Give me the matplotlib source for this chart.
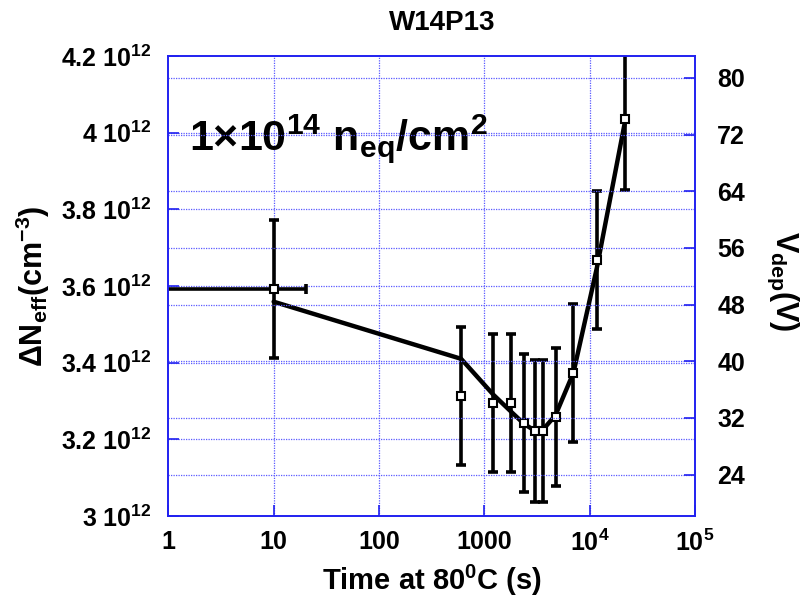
import numpy as np
import matplotlib
matplotlib.use('Agg')
import matplotlib.pyplot as plt
from matplotlib.ticker import FixedLocator, FuncFormatter, NullLocator

plt.rcParams['font.family'] = ['Liberation Sans', 'DejaVu Sans']
plt.rcParams['font.weight'] = 'bold'
plt.rcParams['mathtext.fontset'] = 'custom'
plt.rcParams['mathtext.rm'] = 'Liberation Sans:bold'
plt.rcParams['mathtext.it'] = 'Liberation Sans:bold'
plt.rcParams['mathtext.bf'] = 'Liberation Sans:bold'
plt.rcParams['mathtext.default'] = 'rm'

## the data (Neff in units of 1e12 cm^-3)
time_s = [10, 602, 1222, 1797, 2389, 3000, 3600, 4740, 7020, 11700, 21800]
neff = [3.591, 3.313, 3.294, 3.294, 3.242, 3.222, 3.222, 3.259, 3.372, 3.668, 4.035]
neff_err = [0.18, 0.18, 0.18, 0.18, 0.18, 0.185, 0.185, 0.18, 0.18, 0.18, 0.185]
first_xerr_low = 9.9    # horizontal bar on the first point
first_xerr_high = 10.3

fit_time = [10, 602, 1222, 1797, 2389, 3000, 3600, 4740, 7020, 11700, 21800]
fit_neff = [3.559, 3.410, 3.316, 3.272, 3.240, 3.223, 3.225, 3.263, 3.374, 3.647, 4.033]

left_ticks = [3.0, 3.2, 3.4, 3.6, 3.8, 4.0, 4.2]
right_ticks = [24, 32, 40, 48, 56, 64, 72, 80]
x_ticks = [1, 10, 100, 1000, 1e4, 1e5]
x_tick_labels = ['1', '10', '100', '1000', '10$^4$', '10$^5$']

blue = '#2020f0'
gridc = '#5a5aff'

fig = plt.figure(figsize=(8.12, 6.0), dpi=100)
ax = fig.add_axes([0.2073, 0.14, 0.6486, 0.7667])
ax2 = ax.twinx()

ax.set_xscale('log')
ax.set_xlim(1, 1e5)
ax.set_ylim(3.0, 4.2)
ax2.set_ylim(18.14, 83.1)

# grid
for t in x_ticks[1:-1]:
    ax.axvline(t, color=gridc, ls=(0, (1, 1)), lw=0.9, zorder=0)
for v in left_ticks[1:-1]:
    ax.axhline(v, color=gridc, ls=(0, (1, 1)), lw=0.9, zorder=0)
for v in right_ticks:
    ax2.axhline(v, color=gridc, ls=(0, (1, 1)), lw=0.9, zorder=0)

# fit line
ax.plot(fit_time, fit_neff, color='black', lw=3.2, zorder=3, solid_capstyle='round')

# data with error bars
ax.errorbar(time_s, neff, yerr=neff_err, fmt='none', ecolor='black',
            elinewidth=2.6, capsize=3.5, capthick=2.6, zorder=2)
ax.errorbar([time_s[0]], [neff[0]], xerr=[[first_xerr_low], [first_xerr_high]],
            fmt='none', ecolor='black', elinewidth=2.6, capsize=3.5, capthick=2.6, zorder=2)
ax.plot(time_s, neff, 's', ms=5.5, mfc='white', mec='black', mew=1.5, zorder=4)

# ticks and labels
ax.xaxis.set_major_locator(FixedLocator(x_ticks))
ax.xaxis.set_minor_locator(NullLocator())
ax.set_xticklabels(x_tick_labels)
ax.yaxis.set_major_locator(FixedLocator(left_ticks))
ax.yaxis.set_major_formatter(FuncFormatter(lambda v, p: '%g 10$^{12}$' % v))
ax2.yaxis.set_major_locator(FixedLocator(right_ticks))

for a in (ax, ax2):
    for s in a.spines.values():
        s.set_color(blue)
        s.set_linewidth(1.2)
    a.tick_params(direction='in', length=8, width=1.2, color=blue,
                  labelsize=18, labelcolor='black')
ax.tick_params(axis='x', pad=10)
ax.tick_params(axis='y', pad=12)
ax2.tick_params(axis='y', pad=16)
ax.xaxis.set_ticks_position('bottom')

ax.set_xlabel('Time at 80$^0$C (s)', fontsize=21, fontweight='bold')
ax.xaxis.set_label_coords(0.5, -0.102)
ax.set_ylabel('$\\Delta$N$_{eff}$(cm$^{-3}$)', fontsize=22, fontweight='bold')
ax.yaxis.set_label_coords(-0.22, 0.5)
ax2.set_ylabel('V$_{dep}$(V)', fontsize=22, fontweight='bold', rotation=270)
ax2.yaxis.set_label_coords(1.2, 0.51)

fig.text(0.545, 0.962, 'W14P13', fontsize=20, fontweight='bold', ha='center', va='center')
ax.text(0.04, 0.82, '1×10$^{14}$ n$_{eq}$/cm$^2$', transform=ax.transAxes,
        fontsize=31, fontweight='bold', ha='left', va='center')

fig.savefig('out.png', dpi=100)
